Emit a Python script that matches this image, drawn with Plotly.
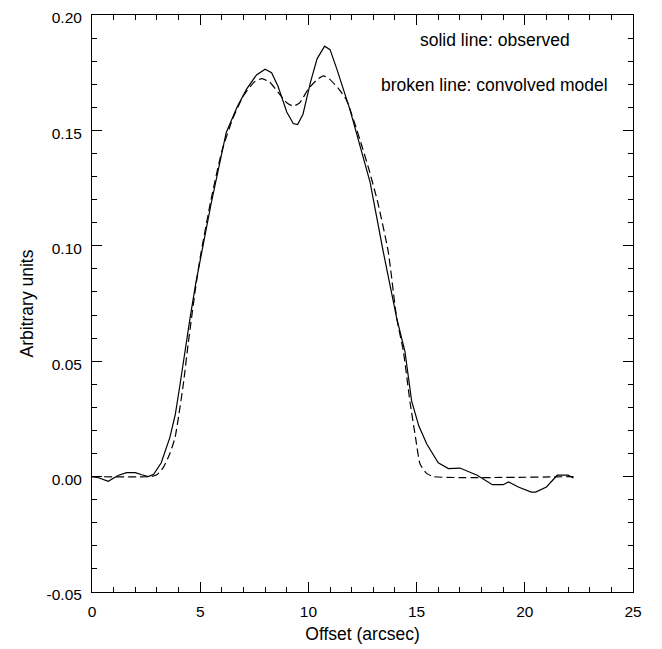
import plotly.graph_objects as go

# Observed profile (solid)
obs_x = [0, 0.3, 0.75, 1.2, 1.6, 2.0, 2.3, 2.6, 2.85, 3.2, 3.6, 3.85, 4.07, 4.3,
         4.53, 4.8, 5.07, 5.5, 6.2, 6.7, 7.15, 7.6, 8.0, 8.3, 8.6, 9.0, 9.3, 9.5,
         9.75, 10.1, 10.4, 10.75, 11.0, 11.3, 11.92, 12.4, 12.85, 13.46, 14.08,
         14.46, 14.77, 15.1, 15.47, 16.0, 16.47, 17.0, 17.5, 17.8, 18.5, 19.0,
         19.25, 19.7, 20.3, 20.5, 21.0, 21.5, 22.0, 22.25]
obs_y = [0, -0.0005, -0.002, 0.0005, 0.0017, 0.0017, 0.0008, 0.0, 0.001, 0.006,
         0.017, 0.027, 0.040, 0.055, 0.0687, 0.084, 0.0974, 0.118, 0.149, 0.160,
         0.168, 0.174, 0.1765, 0.175, 0.169, 0.158, 0.153, 0.1525, 0.157, 0.171,
         0.181, 0.1865, 0.185, 0.177, 0.159, 0.143, 0.1276, 0.0974, 0.0687,
         0.0543, 0.0328, 0.022, 0.0141, 0.006, 0.0035, 0.0037, 0.0018, 0.0006,
         -0.0035, -0.0035, -0.0023, -0.0045, -0.0067, -0.0067, -0.0045, 0.0006,
         0.0006, -0.0006]

# Convolved model (broken line)
mod_x = [0, 2.7, 3.0, 3.3, 3.6, 3.84, 4.0, 4.22, 4.45, 4.76, 5.0, 5.5, 6.0, 6.5,
         7.0, 7.5, 7.85, 8.2, 8.6, 9.0, 9.3, 9.6, 10.0, 10.4, 10.7, 11.0, 11.4,
         11.77, 12.38, 12.8, 13.2, 13.69, 14.08, 14.39, 14.7, 14.95, 15.16, 15.45,
         15.77, 22.25]
mod_y = [0, 0, 0.0008, 0.004, 0.010, 0.017, 0.026, 0.040, 0.058, 0.080, 0.095,
         0.120, 0.141, 0.155, 0.165, 0.171, 0.1724, 0.171, 0.1665, 0.162, 0.1605,
         0.162, 0.168, 0.172, 0.1736, 0.172, 0.168, 0.163, 0.146, 0.133, 0.119,
         0.0974, 0.0687, 0.0543, 0.032, 0.017, 0.0055, 0.0015, 0, 0]

x_tickvals = [0, 5, 10, 15, 20, 25]
y_tickvals = [-0.05, 0.0, 0.05, 0.10, 0.15, 0.20]
y_ticktext = ["-0.05", "0.00", "0.05", "0.10", "0.15", "0.20"]

FONT = "Liberation Sans, Arial, Helvetica, sans-serif"

fig = go.Figure()
fig.add_trace(go.Scatter(x=obs_x, y=obs_y, mode="lines",
                         line=dict(color="black", width=1.2), showlegend=False))
fig.add_trace(go.Scatter(x=mod_x, y=mod_y, mode="lines",
                         line=dict(color="black", width=1.2, dash="8px,4px", shape="spline",
                                   smoothing=0.5),
                         showlegend=False))

fig.add_annotation(x=18.62, y=0.1892, text="solid line: observed", showarrow=False,
                   font=dict(family=FONT, size=17.5, color="black"))
fig.add_annotation(x=18.62, y=0.1698, text="broken line: convolved model", showarrow=False,
                   font=dict(family=FONT, size=17.5, color="black"))

axis_common = dict(showline=True, linecolor="black", linewidth=1, mirror="allticks",
                   ticks="inside", ticklen=10, tickcolor="black", tickwidth=1,
                   showgrid=False, zeroline=False, automargin=False,
                   ticklabeloverflow="allow",
                   tickfont=dict(family=FONT, size=15.5, color="black"))

fig.update_xaxes(range=[0, 25], tickvals=x_tickvals, ticklabelstandoff=5,
                 minor=dict(ticks="inside", ticklen=5, dtick=1, tick0=0, tickcolor="black",
                            showgrid=False),
                 title=dict(text="Offset (arcsec)", font=dict(family=FONT, size=17.5, color="black"),
                            standoff=9),
                 **axis_common)
fig.update_yaxes(range=[-0.05, 0.20], tickvals=y_tickvals, ticktext=y_ticktext,
                 ticklabelstandoff=6, ticklabelshift=3,
                 minor=dict(ticks="inside", ticklen=5, dtick=0.01, tick0=0, tickcolor="black",
                            showgrid=False),
                 title=dict(text="Arbitrary units", font=dict(family=FONT, size=17.5, color="black"),
                            standoff=8),
                 **axis_common)

# page body adds an 8px offset, so the figure is sized to fit the window
fig.update_layout(width=654, height=641, plot_bgcolor="white", paper_bgcolor="white",
                  margin=dict(l=84, r=29, t=7, b=57),
                  font=dict(family=FONT, color="black"))

fig.write_html("out.html")
